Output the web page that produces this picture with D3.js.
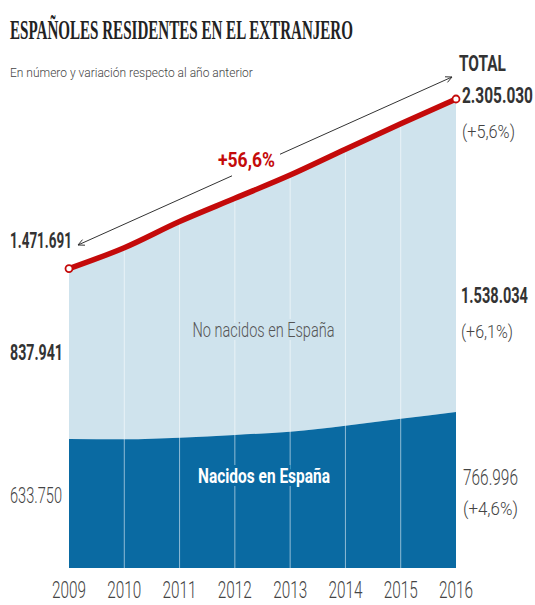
<!DOCTYPE html>
<html><head><meta charset="utf-8">
<script src="https://cdn.jsdelivr.net/npm/d3@7/dist/d3.min.js"></script>
<style>html,body{margin:0;padding:0;background:#fff}svg{display:block}</style>
</head><body>
<svg id="c" width="535" height="605"></svg>
<script>
const years = [2009, 2010, 2011, 2012, 2013, 2014, 2015, 2016];
const total = [1471691, 1574123, 1702778, 1816835, 1931248, 2058048, 2183043, 2305030];
const nacidos = [633750, 632500, 640500, 654000, 670000, 699500, 733266, 766996];
const noNacidos = total.map((t, i) => t - nacidos[i]);
const yearLabels = ["2009", "2010", "2011", "2012", "2013", "2014", "2015", "2016"];

const svg = d3.select("#c");
const x = d3.scaleLinear().domain([2009, 2016]).range([69, 456]);
const y = d3.scaleLinear().domain([0, 2305030]).range([568, 99]);

const data = years.map((yr, i) => ({yr, nac: nacidos[i], tot: nacidos[i] + noNacidos[i]}));
const curve = d3.curveMonotoneX;

svg.append("path").datum(data)
  .attr("d", d3.area().x(d => x(d.yr)).y0(d => y(d.nac)).y1(d => y(d.tot)).curve(curve))
  .attr("fill", "#cfe3ed");
svg.append("path").datum(data)
  .attr("d", d3.area().x(d => x(d.yr)).y0(y(0)).y1(d => y(d.nac)).curve(curve))
  .attr("fill", "#0a6aa2");

// vertical gridlines
svg.append("g").selectAll("line").data(data.slice(1, -1)).join("line")
  .attr("x1", d => x(d.yr)).attr("x2", d => x(d.yr))
  .attr("y1", d => y(d.tot)).attr("y2", y(0))
  .attr("stroke", "#ffffff").attr("stroke-opacity", 0.55).attr("stroke-width", 1);

// text helper: condensed horizontally with a transform so its box matches the target width
function txt(px, py, s, size, weight, fill, w, anchor, fam) {
  const t = svg.append("text").attr("x", 0).attr("y", 0).text(s)
    .attr("font-family", fam || "Roboto, 'Liberation Sans', sans-serif")
    .attr("font-size", size).attr("font-weight", weight).attr("fill", fill)
    .attr("text-anchor", anchor || "start");
  const nat = t.node().getComputedTextLength();
  const sx = w && nat > 0 ? w / nat : 1;
  t.attr("transform", `translate(${px},${py}) scale(${sx},1)`);
  return t;
}

// area labels (with masking stroke to cut gridlines)
txt(263.5, 337, "No nacidos en España", 20, 300, "#555", 142, "middle")
  .attr("stroke", "#cfe3ed").attr("stroke-width", 6).attr("paint-order", "stroke");
txt(264, 483, "Nacidos en España", 20, 700, "#ffffff", 132, "middle")
  .attr("stroke", "#0a6aa2").attr("stroke-width", 6).attr("paint-order", "stroke");

// total line
svg.append("path").datum(data)
  .attr("d", d3.line().x(d => x(d.yr)).y(d => y(d.tot)).curve(curve))
  .attr("fill", "none").attr("stroke", "#c40a0a").attr("stroke-width", 5.5).attr("stroke-linecap", "round");
svg.append("g").selectAll("circle").data([data[0], data[data.length - 1]]).join("circle")
  .attr("cx", d => x(d.yr)).attr("cy", d => y(d.tot)).attr("r", 3.5)
  .attr("fill", "#fff").attr("stroke", "#c40a0a").attr("stroke-width", 1.8);

// growth arrow
const ax1 = 78, ay1 = 245, ax2 = 452, ay2 = 77;
const slope = (ay2 - ay1) / (ax2 - ax1);
const ya = xx => ay1 + slope * (xx - ax1);
const ag = svg.append("g").attr("stroke", "#333").attr("stroke-width", 1).attr("fill", "none");
ag.append("line").attr("x1", ax1).attr("y1", ay1).attr("x2", 232).attr("y2", ya(232));
ag.append("line").attr("x1", 280).attr("y1", ya(280)).attr("x2", ax2).attr("y2", ay2);
const ang = Math.atan2(ay2 - ay1, ax2 - ax1);
function head(px, py, a) {
  const L = 7, s = 0.45;
  ag.append("path").attr("d",
    `M${px + L * Math.cos(a + s)},${py + L * Math.sin(a + s)} L${px},${py} L${px + L * Math.cos(a - s)},${py + L * Math.sin(a - s)}`);
}
head(ax1, ay1, ang);
head(ax2, ay2, ang + Math.PI);
txt(246.5, 167, "+56,6%", 20, 700, "#c40a0a", 57, "middle");

// titles
txt(10, 39, "ESPAÑOLES RESIDENTES EN EL EXTRANJERO", 27, 700, "#222", 343, "start", "'Liberation Serif', 'DejaVu Serif', serif");
txt(10, 77, "En número y variación respecto al año anterior", 13.5, 300, "#444", 243);

// left values
txt(10, 248, "1.471.691", 22, 700, "#333", 62);
txt(10, 360, "837.941", 22, 700, "#333", 53);
txt(10, 503, "633.750", 22, 300, "#444", 52);

// right values
txt(459, 71, "TOTAL", 23, 700, "#333", 47);
txt(462, 103, "2.305.030", 22, 700, "#333", 71);
txt(462, 138, "(+5,6%)", 19, 300, "#444", 53);
txt(461, 303, "1.538.034", 22, 700, "#333", 67);
txt(461, 338, "(+6,1%)", 19, 300, "#444", 52);
txt(463, 485, "766.996", 22, 300, "#444", 55);
txt(463, 515, "(+4,6%)", 19, 300, "#444", 55);

// x axis labels
const xAxis = d3.axisBottom(x).tickValues(years).tickFormat((d, i) => yearLabels[i]).tickSize(0).tickPadding(0);
const gx = svg.append("g").attr("transform", "translate(0,580)").call(xAxis);
gx.select(".domain").remove();
gx.selectAll("text").each(function () {
  const t = d3.select(this).attr("dy", "0").attr("y", 0)
    .attr("font-family", "Roboto, 'Liberation Sans', sans-serif").attr("font-size", 24).attr("font-weight", 300)
    .attr("fill", "#444");
  const nat = this.getComputedTextLength();
  t.attr("transform", `translate(0,18) scale(${34 / nat},1)`);
});
gx.selectAll(".tick").each(function (d) {
  d3.select(this).attr("transform", `translate(${x(d)},0)`);
});
</script>
</body></html>
